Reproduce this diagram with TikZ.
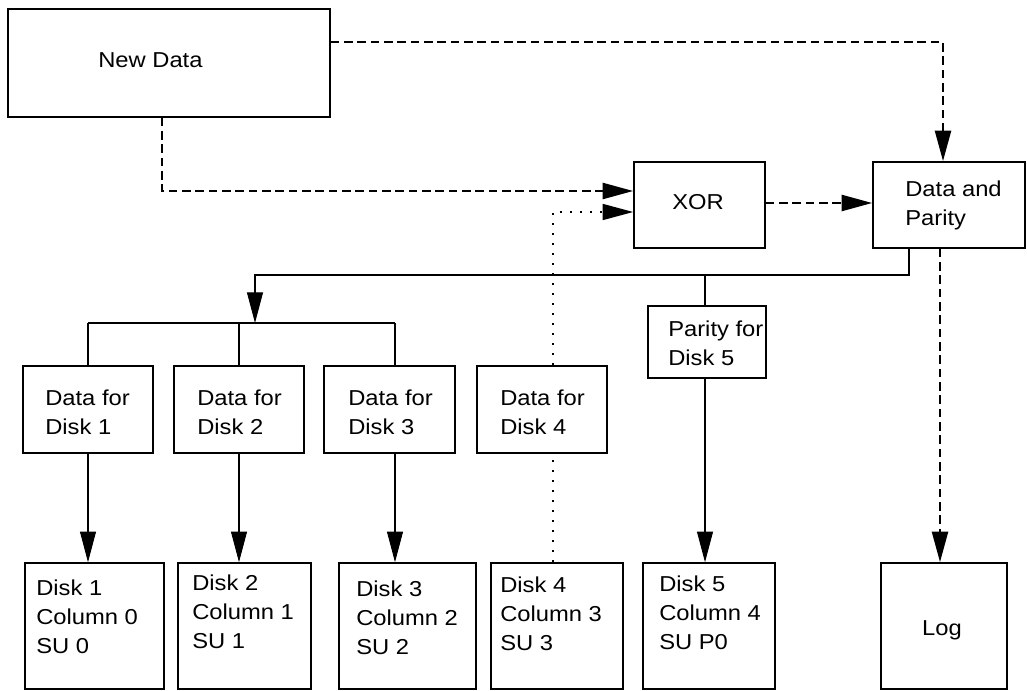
\documentclass[tikz,border=0pt]{standalone}
\usepackage{fontspec}
\setmainfont[FakeStretch=1.1]{Liberation Sans}
\usetikzlibrary{arrows.meta}
\tikzset{
  box/.style 2 args={draw=black, line width=1.2pt, fill=white, inner sep=0pt,
    minimum width=0.75pt*#1, minimum height=0.75pt*#2},
  txt/.style={inner sep=0pt, anchor=north west, align=left, font=\fontsize{16.2}{21.75}\selectfont},
  ctr/.style={inner sep=0pt, anchor=base, font=\fontsize{16.2}{21.75}\selectfont},
  tip/.style={-{Triangle[length=23pt,width=12pt]}},
  solidline/.style={line width=0.8pt},
  dashline/.style={line width=1.9pt, dash pattern=on 6.5pt off 3.5pt},
  dotline/.style={line width=1.3pt, dash pattern=on 1.5pt off 6pt},
}
\begin{document}
\begin{tikzpicture}[x=0.75pt,y=-0.75pt]
\useasboundingbox[fill=white] (0,0) rectangle (1027,691);
% boxes
\node[box={322}{108}] (nd) at (169,63) {};
\node[box={131}{86}] (xor) at (699.5,205) {};
\node[box={152}{86}] (dp) at (949,205) {};
\node[box={118}{72}] (pf) at (707,342) {};
\node[box={130}{87}] (df1) at (88,409.5) {};
\node[box={130}{87}] (df2) at (239,409.5) {};
\node[box={131}{87}] (df3) at (389.5,409.5) {};
\node[box={130}{87}] (df4) at (542,409.5) {};
\node[box={139}{126}] (d1) at (94.5,626) {};
\node[box={133}{126}] (d2) at (244.5,626) {};
\node[box={137}{126}] (d3) at (407.5,626) {};
\node[box={132}{126}] (d4) at (557,626) {};
\node[box={132}{126}] (d5) at (709,626) {};
\node[box={126}{126}] (lg) at (944,626) {};
% texts
\node[ctr, anchor=base west] (ndt) at (98,68) {New Data};
\node[ctr] (xort) at (698,210) {XOR};
\node[txt] (dpt) at (905,181) {Data and\\Parity};
\node[txt] (pft) at (668,321) {Parity for\\Disk 5};
\node[txt] (df1t) at (45,390) {Data for\\Disk 1};
\node[txt] (df2t) at (197,390) {Data for\\Disk 2};
\node[txt] (df3t) at (348,390) {Data for\\Disk 3};
\node[txt] (df4t) at (500,390) {Data for\\Disk 4};
\node[txt] (d1t) at (36,580) {Disk 1\\Column 0\\SU 0};
\node[txt] (d2t) at (192,575) {Disk 2\\Column 1\\SU 1};
\node[txt] (d3t) at (356,581) {Disk 3\\Column 2\\SU 2};
\node[txt] (d4t) at (500,577) {Disk 4\\Column 3\\SU 3};
\node[txt] (d5t) at (659,576) {Disk 5\\Column 4\\SU P0};
\node[ctr] (lgt) at (942,635) {Log};
% coordinates
\coordinate (j1) at (255,275);
\coordinate (j2) at (255,323);
\coordinate (jp) at (705,275);
\coordinate (b1) at (88,323);
\coordinate (b2) at (239,323);
\coordinate (b3) at (395,323);
% dashed flows
\draw[dashline, tip] (nd.east |- 0,42) -| (dp.north -| 943,0);
\draw[dashline, tip] (nd.south -| 162,0) |- (xor.west |- 0,191);
\draw[dashline, tip] (xor.east |- 0,203) -- (dp.west |- 0,203);
\draw[dashline, tip] (dp.south -| 940,0) -- (lg.north -| 940,0);
% dotted
\draw[dotline] (d4.north -| 553,0) -- (df4.south -| 553,0);
\draw[dotline, tip] (df4.north -| 553,0) |- (xor.west |- 0,212);
% solid tree
\draw[solidline, tip] (dp.south -| 909,0) |- (j1) -- (j2);
\draw[solidline] (b1) -- (b3);
\draw[solidline] (b1) -- (df1.north -| b1);
\draw[solidline] (b2) -- (df2.north -| b2);
\draw[solidline] (b3) -- (df3.north -| b3);
\draw[solidline] (jp) -- (pf.north -| jp);
\draw[solidline, tip] (pf.south -| jp) -- (d5.north -| jp);
\draw[solidline, tip] (df1.south -| 88,0) -- (d1.north -| 88,0);
\draw[solidline, tip] (df2.south -| 239,0) -- (d2.north -| 239,0);
\draw[solidline, tip] (df3.south -| 395,0) -- (d3.north -| 395,0);
\end{tikzpicture}
\end{document}
